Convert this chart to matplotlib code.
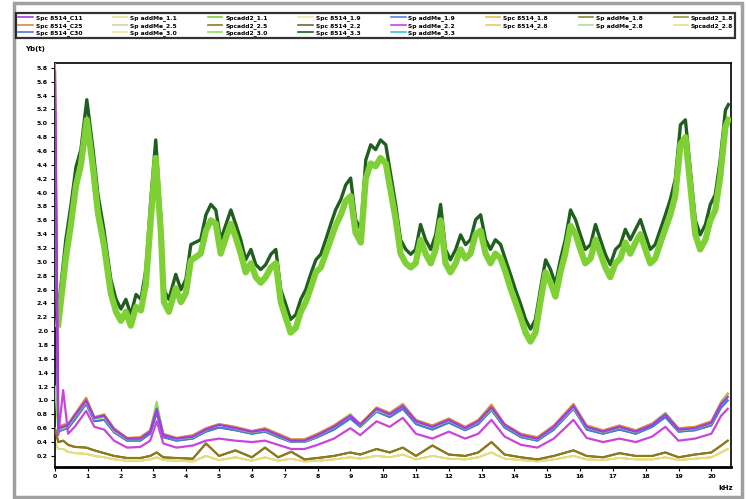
import matplotlib
matplotlib.use("Agg")
import matplotlib.pyplot as plt
from matplotlib.patches import Rectangle

# frequency (kHz) and amplitude readings for the two upper green traces
hi_x = [0.10, 0.33, 0.49, 0.64, 0.79, 0.97, 1.16, 1.31, 1.49, 1.70, 1.86, 2.01, 2.16,
        2.31, 2.47, 2.62, 2.77, 2.92, 3.07, 3.23, 3.32, 3.47, 3.68, 3.84, 3.99, 4.14,
        4.44, 4.60, 4.75, 4.90, 5.05, 5.21, 5.36, 5.51, 5.66, 5.81, 5.97, 6.12, 6.27,
        6.42, 6.58, 6.73, 6.88, 7.03, 7.18, 7.34, 7.49, 7.64, 7.79, 7.95, 8.10, 8.25,
        8.40, 8.55, 8.71, 8.86, 9.01, 9.16, 9.32, 9.47, 9.62, 9.77, 9.92, 10.08, 10.23,
        10.38, 10.53, 10.69, 10.84, 10.99, 11.14, 11.29, 11.45, 11.60, 11.75, 11.90,
        12.05, 12.21, 12.36, 12.51, 12.66, 12.82, 12.97, 13.12, 13.27, 13.42, 13.58,
        13.73, 13.88, 14.03, 14.19, 14.34, 14.49, 14.64, 14.79, 14.95, 15.10, 15.25,
        15.40, 15.55, 15.71, 15.86, 16.01, 16.16, 16.32, 16.47, 16.62, 16.77, 16.92,
        17.08, 17.23, 17.38, 17.53, 17.69, 17.84, 17.99, 18.14, 18.29, 18.45, 18.60,
        18.75, 18.90, 19.06, 19.21, 19.36, 19.51, 19.66, 19.82, 19.97, 20.12, 20.27,
        20.43, 20.52]

green_dark = [2.30, 3.32, 3.83, 4.37, 4.62, 5.34, 4.62, 3.97, 3.47, 2.75, 2.46, 2.32, 2.46,
              2.24, 2.53, 2.46, 2.89, 3.90, 4.76, 3.61, 2.60, 2.46, 2.82, 2.60, 2.75, 3.25,
              3.32, 3.68, 3.83, 3.75, 3.32, 3.54, 3.75, 3.54, 3.32, 3.03, 3.18, 2.96, 2.89,
              2.96, 3.11, 3.18, 2.60, 2.39, 2.17, 2.24, 2.46, 2.60, 2.82, 3.03, 3.11, 3.32,
              3.54, 3.75, 3.90, 4.11, 4.21, 3.61, 3.47, 4.47, 4.69, 4.62, 4.76, 4.69, 4.26,
              3.83, 3.32, 3.18, 3.11, 3.18, 3.54, 3.32, 3.18, 3.39, 3.83, 3.18,
              3.03, 3.18, 3.39, 3.25, 3.32, 3.61, 3.68, 3.32, 3.18, 3.32, 3.25,
              3.03, 2.82, 2.60, 2.39, 2.17, 2.03, 2.17, 2.60, 3.03, 2.89, 2.68,
              3.03, 3.32, 3.75, 3.61, 3.39, 3.18, 3.25, 3.54, 3.32, 3.11, 2.96,
              3.18, 3.25, 3.47, 3.32, 3.47, 3.61, 3.39, 3.18, 3.25, 3.47, 3.68,
              3.90, 4.19, 4.98, 5.05, 4.33, 3.61, 3.39, 3.54, 3.83, 3.97, 4.47,
              5.19, 5.27]

green_light = [2.10, 3.05, 3.55, 4.10, 4.40, 5.05, 4.35, 3.70, 3.25, 2.55, 2.28, 2.15, 2.28,
               2.08, 2.35, 2.30, 2.68, 3.62, 4.50, 3.40, 2.42, 2.28, 2.62, 2.42, 2.55, 3.02,
               3.12, 3.45, 3.60, 3.55, 3.12, 3.35, 3.55, 3.35, 3.12, 2.85, 2.98, 2.78, 2.70,
               2.78, 2.92, 2.98, 2.42, 2.20, 1.98, 2.05, 2.28, 2.42, 2.62, 2.85, 2.92, 3.12,
               3.32, 3.52, 3.68, 3.88, 3.95, 3.42, 3.28, 4.20, 4.42, 4.38, 4.50, 4.42, 4.02,
               3.62, 3.12, 2.98, 2.92, 2.98, 3.32, 3.12, 2.98, 3.18, 3.60, 2.98,
               2.85, 2.98, 3.18, 3.05, 3.12, 3.40, 3.45, 3.12, 2.98, 3.12, 3.05,
               2.85, 2.62, 2.42, 2.20, 1.98, 1.85, 1.98, 2.42, 2.85, 2.70, 2.50,
               2.85, 3.12, 3.52, 3.40, 3.18, 2.98, 3.05, 3.32, 3.12, 2.92, 2.78,
               2.98, 3.05, 3.28, 3.12, 3.28, 3.40, 3.18, 2.98, 3.05, 3.28, 3.48,
               3.68, 3.95, 4.70, 4.80, 4.10, 3.40, 3.18, 3.32, 3.60, 3.75, 4.22,
               4.95, 5.05]

# readings for the low group of traces
lo_x = [0.0, 0.1, 0.25, 0.4, 0.6, 0.95, 1.2, 1.5, 1.8, 2.2, 2.6, 2.9, 3.1, 3.3, 3.7,
        4.2, 4.6, 5.0, 5.5, 6.0, 6.4, 6.8, 7.2, 7.6, 8.0, 8.5, 9.0, 9.3, 9.8, 10.2,
        10.6, 11.0, 11.5, 12.0, 12.5, 12.9, 13.3, 13.7, 14.2, 14.7, 15.2, 15.8, 16.2,
        16.7, 17.2, 17.7, 18.2, 18.6, 19.0, 19.5, 20.0, 20.3, 20.5]

purple_a = [5.75, .60, .62, .65, .78, 1.00, .75, .78, .58, .45, .45, .55, .88, .50, .45,
            .48, .58, .65, .60, .55, .58, .50, .42, .42, .50, .62, .78, .65, .88, .80,
            .92, .70, .62, .72, .60, .70, .90, .65, .50, .45, .62, .92, .62, .55, .62,
            .55, .65, .80, .58, .60, .68, .95, 1.05]
purple_b = [5.60, .50, 1.15, .52, .62, .85, .62, .58, .42, .32, .33, .42, .70, .38, .32,
            .35, .42, .45, .42, .40, .42, .36, .30, .30, .36, .45, .60, .50, .70, .62,
            .75, .52, .45, .55, .45, .52, .72, .48, .36, .32, .45, .72, .46, .40, .45,
            .40, .48, .62, .42, .45, .52, .78, .88]
orange_lo = [5.90, .62, .65, .66, .80, 1.04, .76, .80, .60, .46, .47, .57, .92, .52, .46,
             .50, .60, .66, .62, .56, .60, .52, .44, .44, .52, .64, .80, .66, .90, .82,
             .95, .72, .64, .74, .62, .72, .94, .66, .52, .47, .64, .95, .64, .57, .64,
             .57, .67, .82, .60, .62, .70, .98, 1.10]
blue_lo = [4.40, .55, .58, .60, .72, .95, .70, .72, .54, .42, .42, .52, .82, .47, .42,
           .45, .55, .61, .57, .52, .55, .47, .40, .40, .47, .58, .74, .62, .84, .76,
           .88, .66, .58, .68, .57, .66, .86, .61, .47, .42, .58, .88, .58, .52, .58,
           .52, .62, .76, .55, .57, .64, .90, 1.00]
green_lo = [1.20, .58, .60, .63, .76, .98, .73, .76, .56, .44, .44, .56, .98, .50, .44,
            .47, .57, .66, .59, .54, .57, .49, .41, .41, .49, .61, .80, .64, .86, .79,
            .93, .69, .61, .71, .59, .69, .88, .64, .49, .44, .61, .90, .61, .54, .61,
            .54, .66, .82, .57, .59, .67, .96, 1.08]
olive_lo = [.60, .40, .42, .36, .33, .32, .28, .24, .20, .17, .17, .20, .25, .18, .17,
            .16, .38, .20, .28, .18, .32, .18, .26, .15, .17, .20, .25, .22, .30, .25,
            .32, .20, .35, .22, .20, .25, .40, .22, .18, .15, .20, .28, .20, .18, .24,
            .20, .20, .25, .18, .22, .25, .35, .42]
yellow_lo = [.40, .30, .30, .26, .24, .23, .20, .18, .15, .13, .13, .15, .18, .14, .13,
             .12, .20, .14, .18, .13, .18, .13, .16, .12, .13, .15, .18, .16, .20, .18,
             .22, .15, .20, .16, .15, .18, .25, .16, .14, .12, .15, .20, .15, .14, .17,
             .15, .15, .18, .14, .16, .18, .25, .30]

hi = {"dark": green_dark, "light": green_light}
lo = {"pa": purple_a, "pb": purple_b, "or": orange_lo, "bl": blue_lo,
      "gr": green_lo, "ol": olive_lo, "ye": yellow_lo}

# legend order (column by column), colour, data key, zorder, width
series = [
    ("Spc 8514_C11", "#a33be0", "pa", 7, 1.7),
    ("Spc 8514_C25", "#d09040", "or", 4, 1.5),
    ("Spc 8514_C30", "#4a78d8", "bl", 4, 1.5),
    ("Sp addMe_1.1", "#ece08c", "ye", 2, 1.2),
    ("Sp addMe_2.5", "#d8d0a8", "ye", 2, 1.2),
    ("Sp addMe_3.0", "#efe49a", "ye", 2, 1.2),
    ("Spcadd2_1.1", "#7fd034", "light", 6, 4.5),
    ("Spcadd2_2.5", "#8c7a1e", "ol", 3, 1.6),
    ("Spcadd2_3.0", "#8ee05a", "gr", 4, 1.5),
    ("Spc 8514_1.9", "#f0e6a0", "ye", 2, 1.2),
    ("Spc 8514_2.2", "#6e6a3a", "ol", 2, 1.2),
    ("Spc 8514_3.3", "#1f5e1f", "dark", 5, 2.4),
    ("Sp addMe_1.9", "#5a86e0", "bl", 3, 1.2),
    ("Sp addMe_2.2", "#c845d8", "pb", 6, 1.6),
    ("Sp addMe_3.3", "#40c0c8", "bl", 3, 1.2),
    ("Spc 8514_1.8", "#e0c050", "or", 3, 1.2),
    ("Spc 8514_2.8", "#e2cf68", "ye", 2, 1.2),
    ("Sp addMe_1.8", "#8a8a30", "ol", 2, 1.2),
    ("Sp addMe_2.8", "#a8e0a0", "light", 4, 1.2),
    ("Spcadd2_1.8", "#9a9a40", "dark", 4, 1.2),
    ("Spcadd2_2.8", "#e4e080", "ye", 2, 1.2),
]

fig = plt.figure(figsize=(7.47, 4.99), dpi=100)
ax = fig.add_axes([0.0736, 0.0641, 0.905, 0.8096])

for label, color, key, z, lw in series:
    if key in hi:
        ax.plot(hi_x, hi[key], color=color, lw=lw, zorder=z, label=label)
    else:
        ax.plot(lo_x, lo[key], color=color, lw=lw, zorder=z, label=label)

ax.set_xlim(0, 20.6)
ax.set_ylim(0.04, 5.87)
ax.set_xticks(range(0, 21))
ax.set_yticks([round(0.2 * i, 1) for i in range(1, 30)])
ax.set_yticklabels([f"{0.2 * i:.1f}" for i in range(1, 30)])
ax.tick_params(labelsize=4.5, length=3, width=0.8, pad=2)
for lab in ax.get_xticklabels() + ax.get_yticklabels():
    lab.set_fontweight("bold")
for s in ax.spines.values():
    s.set_linewidth(1.2)
ax.spines["bottom"].set_linewidth(2)

fig.text(0.033, 0.898, "Yb(t)", fontsize=5, fontweight="bold")
fig.text(0.962, 0.018, "kHz", fontsize=5, fontweight="bold")

leg = fig.legend(loc="lower left", bbox_to_anchor=(0.022, 0.924, 0.962, 0.064),
                 mode="expand", ncol=8, fontsize=4.3, frameon=True, fancybox=False,
                 handlelength=2.4, handletextpad=0.5, labelspacing=0.25,
                 borderpad=0.3, columnspacing=1.0, borderaxespad=0)
leg.get_frame().set_edgecolor("black")
leg.get_frame().set_linewidth(1.6)
for t in leg.get_texts():
    t.set_fontweight("bold")
for h in leg.get_lines():
    h.set_linewidth(1.2)

# window border
fig.patches.append(Rectangle((0.019, 0.004), 0.974, 0.99, transform=fig.transFigure,
                             fill=False, edgecolor="#a0a0a0", lw=2.5))

fig.savefig("out.png", dpi=100)
